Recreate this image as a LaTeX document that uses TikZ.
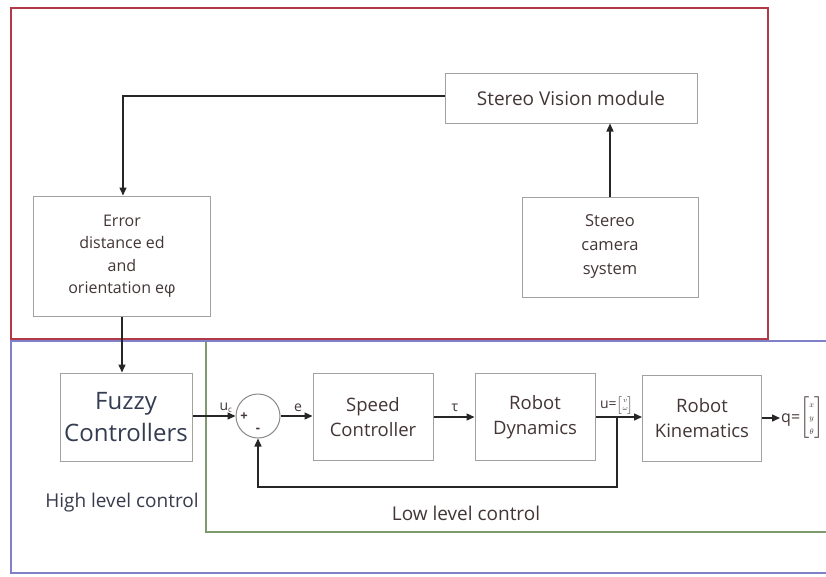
\documentclass[tikz,border=0pt]{standalone}
\usepackage{amsmath}
\usepackage{fontspec}
\setmainfont{Open Sans}
\usetikzlibrary{arrows.meta,calc}
\definecolor{frameRed}{RGB}{178,58,72}
\definecolor{frameBlue}{RGB}{128,128,200}
\definecolor{frameGreen}{RGB}{125,155,110}
\definecolor{boxGray}{RGB}{165,160,160}
\definecolor{txt}{RGB}{68,54,54}
\definecolor{txtBlue}{RGB}{52,60,82}
% small column vector with tiny, tightly stacked entries
\newcommand{\colvec}[2][0.5]{{\renewcommand{\arraystretch}{#1}\ensuremath{\left[\begin{array}{@{}c@{}}#2\end{array}\right]}}}
\tikzset{
  block/.style={draw=boxGray, line width=1pt, fill=white, text=txt, align=center,
    font=\fontsize{18.5}{25}\selectfont, inner sep=0pt},
  wire/.style={draw=black!85, line width=1.4pt},
  arr/.style={wire, -{Triangle[length=8pt,width=7pt]}},
  lbl/.style={text=txt, font=\fontsize{14}{16}\selectfont, inner sep=0pt},
}
\begin{document}
\begin{tikzpicture}[x=1pt,y=-1pt]
\useasboundingbox (0,0) rectangle (826,576);
\fill[white] (0,0) rectangle (826,576);

% outer frames
\draw[frameBlue, line width=1.8pt] (830,341) -- (11,341) -- (11,573) -- (830,573);
\draw[frameGreen, line width=1.4pt] (206,342) -- (206,532) -- (830,532);
\draw[frameRed, line width=2pt] (11,8) rectangle (768,339);

% vision part
\node[block, minimum width=252pt, minimum height=50pt, font=\fontsize{19}{23}\selectfont] (vision) at (571,98) {Stereo Vision module};
\node[block, minimum width=176pt, minimum height=100pt, font=\fontsize{16.5}{24}\selectfont] (camera) at (610,247) {Stereo\\camera\\system};
\node[block, minimum width=177pt, minimum height=120pt, font=\fontsize{16}{22.5}\selectfont] (error) at (122,256) {Error\\distance ed\\and\\orientation eφ};

\draw[arr] (camera.north) -- (vision.south -| camera.north);
\coordinate (turn) at (123,96);
\draw[arr] (vision.west |- turn) -- (turn) -- (turn |- error.north);

% high level control
\node[block, minimum width=132pt, minimum height=88pt, text=txtBlue, font=\fontsize{24}{32}\selectfont] (fuzzy) at (126,417) {Fuzzy\\Controllers};
\draw[arr] (error.south -| 122,0) -- (fuzzy.north -| 122,0);
\node[lbl, font=\fontsize{19}{22}\selectfont, text=txtBlue!80!txt] (high) at (122,503) {High level control};

% low level control loop
\node[draw=boxGray!85!black, line width=1pt, circle, minimum size=44pt, inner sep=0pt] (sum) at (258,416) {};
\node[lbl, font=\fontsize{13}{15}\selectfont\bfseries] (plus) at (244,417) {+};
\node[lbl, font=\fontsize{13}{15}\selectfont\bfseries] (minus) at (258,430) {-};
\node[block, minimum width=120pt, minimum height=87pt] (speed) at (373,417) {Speed\\Controller};
\node[block, minimum width=120pt, minimum height=87pt] (dyn) at (535,417) {Robot\\Dynamics};
\node[block, minimum width=119pt, minimum height=86pt] (kin) at (702,418) {Robot\\Kinematics};

\draw[arr] (fuzzy.east |- sum) -- (sum.west);
\node[lbl, anchor=south] (uc) at (226,413) {u\textsubscript{\fontsize{8}{9}\selectfont c}};
\draw[arr] (sum.east) -- (speed.west |- sum);
\node[lbl, anchor=south] (e) at (298,412) {e};
\draw[arr] (speed.east |- dyn) -- (dyn.west);
\node[lbl, anchor=south] (tau) at (455,412) {τ};
\draw[arr] (dyn.east) -- (kin.west |- dyn);
\node[lbl, anchor=south, font=\fontsize{14}{16}\selectfont] (u) at (617,414)
  {u=\colvec{\scriptscriptstyle v\\ \scriptscriptstyle \omega}};
\coordinate (tap) at (617,417);
\coordinate (fbk) at (617,487);
\draw[arr] (tap) -- (fbk) -- (fbk -| sum) -- (sum.south);
\draw[arr] (kin.east) -- (780,418);
\node[lbl, anchor=west, font=\fontsize{16}{18}\selectfont] (q) at (781,418)
  {q=\colvec[0.75]{\scriptscriptstyle x\\ \scriptscriptstyle y\\ \scriptscriptstyle \theta}};
\node[lbl, font=\fontsize{19}{22}\selectfont] (low) at (466,513) {Low level control};
\end{tikzpicture}
\end{document}
